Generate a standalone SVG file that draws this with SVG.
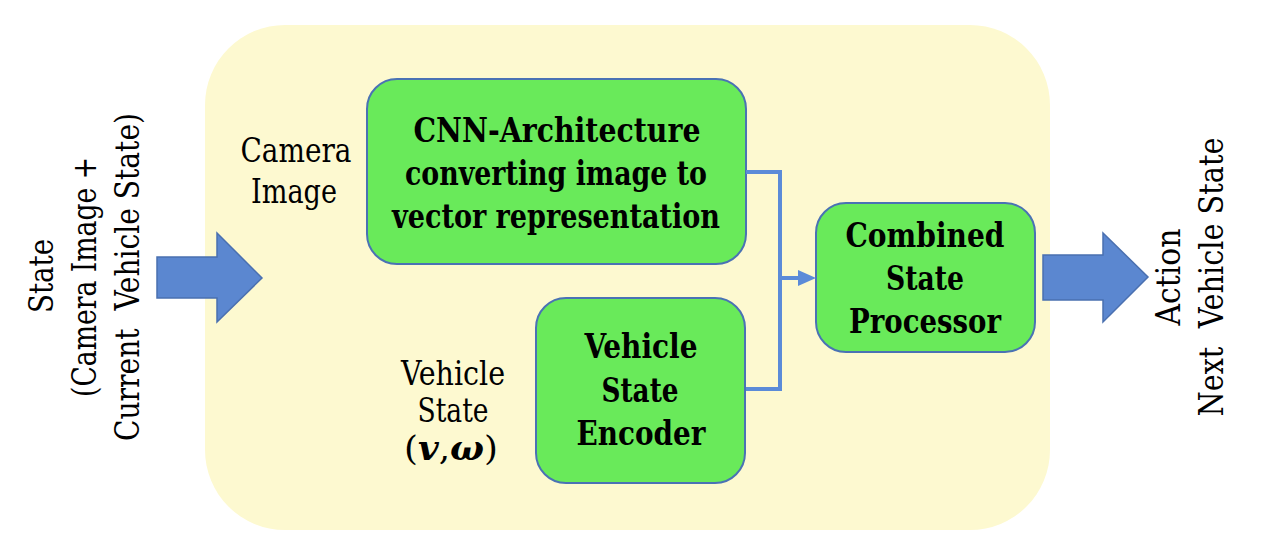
<svg xmlns="http://www.w3.org/2000/svg" width="1275" height="555" viewBox="0 0 1275 555">
<style>
text{fill:#000;text-anchor:middle;font-family:"DejaVu Serif Condensed","DejaVu Serif",serif;font-stretch:condensed}
.reg{font-size:33px}
.bold{font-size:33px;font-weight:bold}
.box{fill:#69EA5A;stroke:#4A72B4;stroke-width:2}
.big{fill:#5B87D0;stroke:#4A70B0;stroke-width:1.5}
.conn{fill:none;stroke:#5B8BD8;stroke-width:4}
.head{fill:#5B8BD8}
</style>
<rect width="1275" height="555" fill="#FFFFFF"/>
<g id="container">
<rect x="205" y="25" width="845" height="505" rx="80" ry="80" fill="#FDF9D0"/>
</g>
<g id="input-label">
<text class="reg" transform="translate(53,276) rotate(-90)" textLength="74" lengthAdjust="spacingAndGlyphs">State</text>
<text class="reg" transform="translate(96,277) rotate(-90)" textLength="240" lengthAdjust="spacingAndGlyphs">(Camera Image +</text>
<text class="reg" xml:space="preserve" transform="translate(139,277) rotate(-90)" textLength="328" lengthAdjust="spacingAndGlyphs">Current  Vehicle State)</text>
</g>
<g id="input-arrow">
<path class="big" d="M157,257 L217,257 L217,233 L262,278 L217,322 L217,298 L157,298 Z"/>
</g>
<g id="camera-label">
<text class="reg" x="296" y="162" textLength="111" lengthAdjust="spacingAndGlyphs">Camera</text>
<text class="reg" x="294" y="203" textLength="86" lengthAdjust="spacingAndGlyphs">Image</text>
</g>
<g id="vehicle-label">
<text class="reg" x="453" y="385" textLength="104" lengthAdjust="spacingAndGlyphs">Vehicle</text>
<text class="reg" x="453" y="422" textLength="71" lengthAdjust="spacingAndGlyphs">State</text>
<text class="reg" x="451" y="460" textLength="94" lengthAdjust="spacingAndGlyphs">(<tspan font-weight="bold" font-style="italic">v</tspan>,<tspan font-weight="bold" font-style="italic">ω</tspan>)</text>
</g>
<g id="cnn">
<rect class="box" x="367" y="79" width="379" height="185" rx="30" ry="30"/>
<text class="bold" x="557" y="142" textLength="287" lengthAdjust="spacingAndGlyphs">CNN-Architecture</text>
<text class="bold" x="556" y="185" textLength="302" lengthAdjust="spacingAndGlyphs">converting image to</text>
<text class="bold" x="556" y="228" textLength="328" lengthAdjust="spacingAndGlyphs">vector representation</text>
</g>
<g id="encoder">
<rect class="box" x="536" y="298" width="209" height="185" rx="30" ry="30"/>
<text class="bold" x="641" y="358" textLength="113" lengthAdjust="spacingAndGlyphs">Vehicle</text>
<text class="bold" x="640" y="402" textLength="77" lengthAdjust="spacingAndGlyphs">State</text>
<text class="bold" x="641" y="445" textLength="129" lengthAdjust="spacingAndGlyphs">Encoder</text>
</g>
<g id="combined">
<rect class="box" x="816" y="203" width="219" height="149" rx="30" ry="30"/>
<text class="bold" x="925" y="247" textLength="159" lengthAdjust="spacingAndGlyphs">Combined</text>
<text class="bold" x="925" y="290" textLength="78" lengthAdjust="spacingAndGlyphs">State</text>
<text class="bold" x="925" y="333" textLength="152" lengthAdjust="spacingAndGlyphs">Processor</text>
</g>
<g id="connectors">
<path class="conn" d="M746,172 L780,172 L780,389 L746,389"/>
<path class="conn" d="M780,278 L800,278"/>
<path class="head" d="M798,270 L816,278 L798,286 Z"/>
</g>
<g id="output-arrow">
<path class="big" d="M1043,255 L1103,255 L1103,233 L1148,277 L1103,322 L1103,300 L1043,300 Z"/>
</g>
<g id="output-label">
<text class="reg" transform="translate(1180,277) rotate(-90)" textLength="97" lengthAdjust="spacingAndGlyphs">Action</text>
<text class="reg" xml:space="preserve" transform="translate(1223,277) rotate(-90)" textLength="279" lengthAdjust="spacingAndGlyphs">Next  Vehicle State</text>
</g>
</svg>
